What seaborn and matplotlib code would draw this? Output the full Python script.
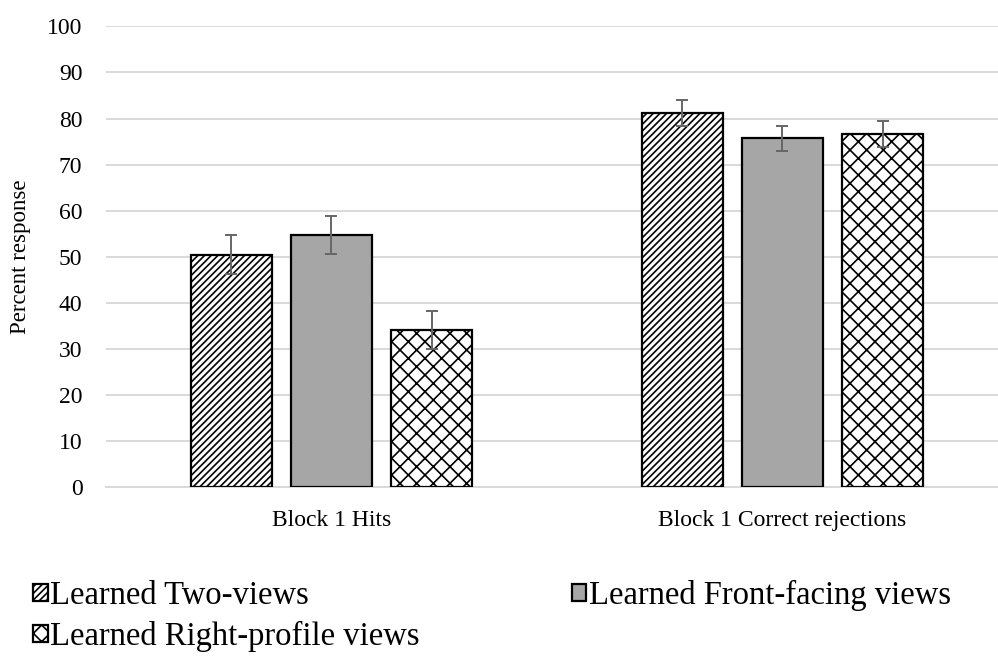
import matplotlib
matplotlib.use("Agg")
import matplotlib.pyplot as plt
from matplotlib.patches import Patch
import seaborn as sns
import pandas as pd

categories = ["Block 1 Hits", "Block 1 Correct rejections"]
conditions = ["Learned Two-views", "Learned Front-facing views", "Learned Right-profile views"]
two_views = [50.5, 81.2]
front_views = [54.8, 75.7]
right_views = [34.2, 76.6]
two_err = [4.2, 2.8]
front_err = [4.1, 2.7]
right_err = [4.1, 2.8]
yticks = [0, 10, 20, 30, 40, 50, 60, 70, 80, 90, 100]

sns.set_theme(style="white")
plt.rcParams['font.family'] = ['Liberation Serif', 'DejaVu Serif']
plt.rcParams['hatch.linewidth'] = 1.2
plt.rcParams['text.color'] = 'black'
plt.rcParams['xtick.color'] = 'black'
plt.rcParams['ytick.color'] = 'black'
plt.rcParams['axes.labelcolor'] = 'black'

rows = []
for cond, vals in zip(conditions, [two_views, front_views, right_views]):
    for cat, v in zip(categories, vals):
        rows.append({"category": cat, "condition": cond, "value": v})
df = pd.DataFrame(rows)
errs = [two_err, front_err, right_err]
colors = ["white", "#A6A6A6", "white"]
hatches = ["/////", "", "xx"]

fig = plt.figure(figsize=(9.98, 6.57), dpi=100)
ax = fig.add_axes([0.1062, 0.258, 0.8938, 0.702])

sns.barplot(data=df, x="category", y="value", hue="condition",
            order=categories, hue_order=conditions,
            palette=colors, edgecolor="black",
            linewidth=1.6, width=0.667, gap=0.19, ax=ax, legend=False,
            saturation=1, zorder=3)

for cont, h, err in zip(ax.containers, hatches, errs):
    for bar, e in zip(cont, err):
        bar.set_hatch(h)
        bar.set_zorder(3)
        xc = bar.get_x() + bar.get_width() / 2
        ax.errorbar(xc, bar.get_height(), yerr=e, color="#666666",
                    capsize=4.5, elinewidth=1.4, capthick=1.4, zorder=4)

ax.set_ylim(0, 100)
ax.set_xlim(-0.5, 1.478)
ax.set_yticks(yticks)
ax.set_yticklabels([str(t) for t in yticks])
ax.yaxis.grid(True, color="#D9D9D9", linewidth=1.4, zorder=0)
ax.set_axisbelow(True)
for s in ["top", "right", "left"]:
    ax.spines[s].set_visible(False)
ax.spines["bottom"].set_color("#D9D9D9")
ax.spines["bottom"].set_linewidth(1.4)
ax.tick_params(axis="y", length=0, pad=17, labelsize=17)
ax.tick_params(axis="x", length=0, pad=16, labelsize=17)
ax.set_xlabel("")
ax.set_ylabel("Percent response", fontsize=16.5, va="center")
ax.yaxis.set_label_coords(-0.096, 0.5)

handles = [Patch(facecolor=c, edgecolor="black", hatch=h, linewidth=1.6, label=l)
           for c, h, l in zip(colors, hatches, conditions)]
order = [0, 2, 1]
fig.legend([handles[i] for i in order], [conditions[i] for i in order],
           loc="upper left", bbox_to_anchor=(0.02, 0.137),
           ncol=2, frameon=False, fontsize=23.5, handlelength=0.45,
           handleheight=0.45, handletextpad=0.08, columnspacing=4.65,
           labelspacing=0.3, borderaxespad=0)

fig.savefig("out.png", dpi=100)
